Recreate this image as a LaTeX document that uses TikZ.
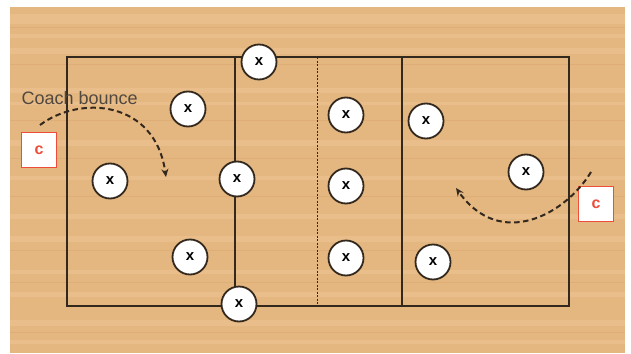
\documentclass[tikz,border=0pt]{standalone}
\usepackage{fontspec}
\setsansfont{Liberation Sans}
\usepackage{tikz}
\usetikzlibrary{arrows.meta}
\definecolor{wood}{RGB}{229,183,128}
\definecolor{woodlight}{RGB}{233,190,138}
\definecolor{woodgrain}{RGB}{222,174,118}
\definecolor{courtline}{RGB}{50,40,30}
\definecolor{coachred}{RGB}{236,78,58}

\begin{document}
\begin{tikzpicture}[
  x=1pt, y=-1pt,
  player/.style={circle,draw=courtline,fill=white,line width=1.8pt,minimum size=35pt,
    inner sep=0pt,font=\sffamily\bfseries\fontsize{15}{15}\selectfont},
  coach/.style={rectangle,draw=coachred,fill=white,line width=1.6pt,minimum size=35pt,
    inner sep=0pt,text=coachred,font=\sffamily\bfseries\fontsize{16}{16}\selectfont},
  move/.style={courtline,line width=2pt,dash pattern=on 5.5pt off 3.5pt,-{Stealth[length=8pt,width=7pt]}}
]
  \useasboundingbox (0,0) rectangle (631,353);
  % floor
  \fill[wood] (10,7) rectangle (625,353);
  \foreach \yy/\ww in {14/10,34/4,48/6,88/5,102/3,140/6,176/4,214/5,236/6,270/4,292/5,320/6,340/4}
    \fill[woodlight] (10,\yy) rectangle (625,\yy+\ww);
  \foreach \yy in {27,64,120,158,196,250,282,332}
    \draw[woodgrain,line width=0.5pt] (10,\yy) -- (625,\yy);
  % court
  \draw[courtline,line width=1.5pt] (67,57) rectangle (569,306);
  \draw[courtline,line width=1.5pt] (235,57) -- (235,306);
  \draw[courtline,line width=1.5pt] (402,57) -- (402,306);
  \draw[courtline,line width=1pt,dash pattern=on 2pt off 1.5pt] (317,57) -- (317,306);
  % players
  \node[player] (p1) at (259,62) {x};
  \node[player] (p2) at (188,109) {x};
  \node[player] (p3) at (110,181) {x};
  \node[player] (p4) at (237,179) {x};
  \node[player] (p5) at (190,257) {x};
  \node[player] (p6) at (239,304) {x};
  \node[player] (p7) at (346,115) {x};
  \node[player] (p8) at (346,186) {x};
  \node[player] (p9) at (346,258) {x};
  \node[player] (p10) at (426,121) {x};
  \node[player] (p11) at (526,172) {x};
  \node[player] (p12) at (433,262) {x};
  % coaches
  \node[coach] (c1) at (39,150) {c};
  \node[coach] (c2) at (596,204) {c};
  \node[font=\sffamily\fontsize{18}{18}\selectfont,text=courtline!85,anchor=west] (lbl) at (18,98) {Coach bounce};
  % bounce passes
  \coordinate (s1) at (40,125);
  \coordinate (t1) at (166,177);
  \coordinate (s2) at (591,172);
  \coordinate (t2) at (456,188);
  \draw[move] (s1) .. controls (80,95) and (155,100) .. (t1);
  \draw[move] (s2) .. controls (565,215) and (500,250) .. (t2);
\end{tikzpicture}
\end{document}
